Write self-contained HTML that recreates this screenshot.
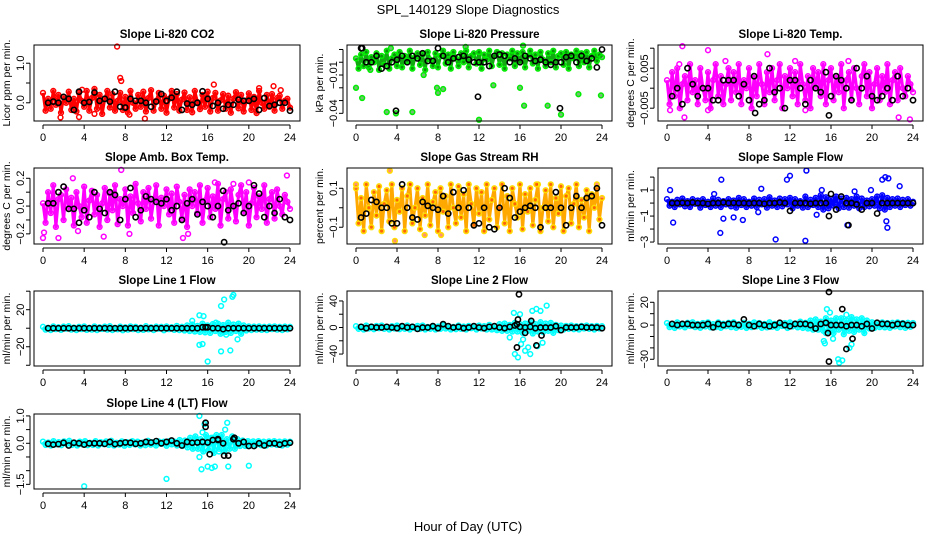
<!DOCTYPE html>
<html><head><meta charset="utf-8"><style>
html,body{margin:0;padding:0;background:#fff;}
svg{display:block;font-family:"Liberation Sans",sans-serif;}
</style></head><body>
<svg id="chart" width="936" height="540" viewBox="0 0 936 540" xmlns="http://www.w3.org/2000/svg">
<rect x="0" y="0" width="936" height="540" fill="#fff"/>
<text x="468" y="14" text-anchor="middle" font-size="13">SPL_140129  Slope Diagnostics</text>
<text x="468" y="531" text-anchor="middle" font-size="13">Hour of Day (UTC)</text>
</svg>
<script>
// ---- data (colored clouds: values over the day; black: half-hourly; outliers) ----
const co2Cloud=[0.25,-0.2,0.1,-0.15,0.3,-0.05,0.2,-0.25,0.15,0.0,0.28,-0.18,0.1,-0.22,0.25,0.05,-0.1,0.3,-0.2,0.12,0.35,-0.15,0.2,-0.28,0.1,0.3,-0.12,0.22,-0.2,0.05,0.25,-0.18,0.15,-0.25,0.3,0.0,-0.15,0.2,-0.1,0.28,-0.22,0.12,0.32,-0.2,0.05,0.25,-0.15,0.18,-0.25,0.1,0.3,-0.12,0.22,-0.2,0.08,0.26,-0.18,0.14,-0.24,0.3,0.02,-0.16,0.2,-0.1,0.28,-0.22,0.12,0.25,-0.2,0.06,0.22,-0.15,0.18,-0.25,0.1,0.27,-0.14,0.2,-0.22,0.05,0.24,-0.18,0.15,-0.26,0.3,0.0,-0.15,0.2,-0.1,0.22,-0.2,0.12,0.18,-0.15,0.05,0.1,-0.12];
const co2OutX=[7.2,7.5,7.6,1.7,3.5,9.9,16.6,22.4,21.0,8.4,5.0,3.8,23.1];
const co2OutY=[1.42,0.63,0.55,-0.37,-0.36,-0.4,0.46,0.42,0.37,-0.3,-0.28,0.33,0.32];
const co2Black=[0.0,0.03,0.0,0.15,0.1,-0.18,0.28,0.0,0.02,0.26,0.05,0.1,0.03,0.28,-0.1,-0.12,0.1,0.05,0.05,0.0,-0.1,0.03,0.22,0.05,0.13,0.28,-0.18,-0.02,-0.05,0.0,0.29,0.1,-0.08,0.0,-0.15,-0.05,-0.05,0.08,0.05,0.05,0.1,-0.18,0.12,-0.08,-0.05,0.0,0.0,-0.2];
const co2BlkX=[],co2BlkY=[];

const presCloud=[0.003,-0.005,0.006,-0.003,0.008,-0.004,0.004,0.0,0.007,-0.006,0.005,-0.002,0.009,-0.005,0.003,0.006,-0.003,0.008,-0.004,0.005,0.001,0.009,-0.005,0.004,0.007,-0.002,0.006,-0.006,0.008,0.002,-0.003,0.007,-0.004,0.005,0.009,-0.001,0.006,-0.005,0.008,0.003,-0.003,0.007,0.0,0.009,-0.004,0.005,0.007,-0.001,0.008,-0.005,0.006,0.002,0.009,-0.003,0.005,0.008,-0.002,0.007,-0.005,0.006,0.003,0.009,-0.003,0.007,0.0,0.008,-0.004,0.005,0.009,-0.001,0.006,-0.005,0.008,0.002,-0.003,0.007,0.0,0.009,-0.004,0.005,0.007,-0.002,0.008,-0.005,0.006,0.003,0.009,-0.003,0.007,0.0,0.008,-0.004,0.005,0.009,0.001,0.006,0.004];
const presOutX=[0.0,0.6,3.0,3.9,5.5,6.6,7.9,8.0,8.5,12.0,13.4,16.0,16.4,18.7,20.0,21.7,23.9,1.4,3.4,16.3,10.7];
const presOutY=[-0.02,-0.028,-0.039,-0.04,-0.039,-0.01,-0.02,-0.024,-0.021,-0.045,-0.018,-0.02,-0.034,-0.034,-0.041,-0.025,-0.026,-0.006,0.011,0.013,0.012];
const presBlack=[0.011,0.0,0.0,0.005,-0.005,-0.003,0.0,0.002,0.005,0.0,0.005,0.003,0.007,0.001,0.001,0.011,0.005,0.0,0.003,0.004,0.005,0.002,0.0,0.0,0.0,-0.003,0.005,0.006,0.005,0.0,0.003,0.0,0.005,0.003,0.001,0.002,0.0,-0.002,0.0,0.0,0.004,0.005,0.0,0.005,0.001,0.003,-0.004,0.01];
const presBlkX=[0.6,3.9,11.9,19.9],presBlkY=[0.011,-0.038,-0.027,-0.036];

const tempCloud=[0.002,-0.004,0.004,-0.002,0.005,-0.005,0.001,0.003,-0.003,0.006,-0.001,0.002,-0.004,0.005,0.0,-0.003,0.004,-0.005,0.002,0.006,-0.002,0.003,-0.004,0.001,0.005,-0.003,0.004,-0.001,0.006,-0.004,0.002,0.0,0.005,-0.005,0.003,-0.002,0.006,0.001,-0.004,0.004,-0.001,0.005,-0.003,0.002,0.006,-0.005,0.003,0.0,0.005,-0.002,0.004,-0.004,0.006,0.001,-0.003,0.003,-0.005,0.005,0.0,0.004,-0.002,0.006,-0.004,0.002,0.005,-0.003,0.003,-0.001,0.006,-0.005,0.002,0.004,-0.003,0.005,0.0,-0.004,0.003,0.006,-0.002,0.004,-0.005,0.001,0.005,-0.003,0.003,-0.001,0.006,-0.004,0.002,0.004,-0.003,0.005,0.0,-0.002,0.003,0.001,-0.001];
const tempOutX=[1.5,4.0,5.7,1.7,0.3,17.7,22.6,23.7,9.8,12.5,13.5,4.0,1.2];
const tempOutY=[0.0105,0.0095,0.0068,-0.0073,-0.0055,0.0068,-0.0073,-0.0078,0.0085,0.0068,-0.0055,-0.0055,0.006];
const tempBlack=[-0.002,0.0,-0.004,0.005,0.001,-0.002,0.0,0.0,-0.003,-0.003,0.002,0.002,0.002,-0.002,0.001,-0.003,0.003,-0.004,-0.003,0.005,-0.001,0.0,-0.005,0.002,0.002,0.0,-0.004,0.002,0.0,-0.001,0.004,-0.002,0.003,0.002,0.0,-0.003,0.005,0.0,0.003,-0.002,-0.003,-0.002,0.0,-0.003,0.003,-0.002,0.0,-0.003];
const tempBlkX=[8.6,15.8],tempBlkY=[-0.0062,-0.0068];

const boxCloud=[0.02,-0.12,0.1,-0.05,0.15,-0.15,0.05,0.08,-0.1,0.12,-0.02,0.06,-0.14,0.1,0.0,-0.08,0.14,-0.12,0.04,0.11,-0.06,0.08,-0.15,0.02,0.13,-0.1,0.09,-0.03,0.15,-0.13,0.05,0.0,0.12,-0.14,0.07,-0.05,0.16,0.02,-0.11,0.1,-0.02,0.13,-0.09,0.04,0.15,-0.14,0.06,0.0,0.12,-0.06,0.09,-0.12,0.14,0.03,-0.09,0.08,-0.15,0.12,0.0,0.1,-0.05,0.15,-0.12,0.04,0.13,-0.08,0.07,-0.02,0.16,-0.14,0.05,0.1,-0.09,0.12,0.0,-0.11,0.08,0.15,-0.05,0.1,-0.14,0.02,0.13,-0.08,0.07,-0.02,0.15,-0.12,0.05,0.1,-0.09,0.12,0.0,-0.06,0.08,0.03,-0.02];
const boxOutX=[0.0,0.1,1.5,7.6,3.4,2.9,16.7,18.5,20.0,23.7,5.9,13.6,14.1,8.4];
const boxOutY=[-0.23,-0.19,-0.23,0.26,-0.18,0.2,0.17,0.16,0.17,0.22,-0.22,-0.23,-0.2,-0.2];
const boxBlack=[0.02,0.02,0.1,0.14,-0.02,-0.02,-0.12,-0.03,-0.08,0.1,-0.02,-0.05,0.1,0.08,-0.1,0.05,0.13,-0.08,-0.03,0.07,0.05,0.03,0.02,0.05,-0.03,0.0,-0.1,0.02,0.05,-0.06,0.03,0.0,-0.08,0.0,0.11,-0.03,0.0,0.02,-0.05,0.0,0.15,0.09,-0.08,0.0,-0.05,0.05,-0.08,-0.1];
const boxBlkX=[17.6],boxBlkY=[-0.26];

const rhCloud=[0.1,-0.08,0.05,-0.12,0.12,0.0,-0.1,0.08,-0.04,0.11,-0.12,0.02,0.09,-0.07,0.12,-0.1,0.04,-0.02,0.1,-0.12,0.06,0.12,-0.08,0.0,0.1,-0.11,0.05,-0.04,0.12,-0.09,0.03,0.08,-0.12,0.1,-0.02,0.06,-0.1,0.12,0.0,-0.08,0.11,-0.05,0.07,-0.12,0.12,0.02,-0.09,0.1,-0.03,0.08,-0.12,0.12,-0.06,0.04,0.1,-0.1,0.0,0.12,-0.08,0.06,-0.12,0.1,0.02,-0.05,0.12,-0.11,0.07,-0.02,0.1,-0.09,0.04,0.12,-0.12,0.0,0.09,-0.07,0.12,-0.1,0.05,-0.03,0.11,-0.12,0.06,0.1,-0.08,0.02,0.12,-0.1,0.04,-0.05,0.09,-0.12,0.07,0.0,0.1,-0.06,0.05];
const rhOutX=[3.3,3.8,17.6,23.5,6.7,8.3,0.0,5.3];
const rhOutY=[0.19,-0.17,0.12,0.12,-0.14,-0.14,0.12,0.12];
const rhBlack=[-0.05,-0.03,0.04,0.03,0.0,0.0,-0.08,-0.08,0.12,0.0,-0.05,-0.06,0.03,0.01,0.0,-0.01,0.06,-0.03,0.08,0.0,0.09,0.0,-0.09,-0.08,0.0,-0.1,-0.11,0.0,0.1,0.05,-0.05,-0.02,0.0,0.01,0.0,-0.1,0.0,0.0,0.08,0.0,-0.09,0.0,0.06,0.0,0.05,0.06,0.1,-0.09];
const rhBlkX=[],rhBlkY=[];

const flowCloud=[0.3,-0.2,0.1,-0.3,0.25,-0.1,0.35,-0.25,0.15,-0.3,0.3,-0.05,0.2,-0.35,0.3,-0.15,0.1,-0.3,0.35,-0.2,0.25,-0.3,0.15,-0.1,0.3,-0.25,0.2,-0.35,0.4,-0.15,0.3,-0.3,0.1,-0.2,0.35,-0.3,0.25,-0.1,0.3,-0.35,0.45,-0.2,0.2,-0.3,0.35,-0.25,0.3,-0.1,0.4,-0.4,0.3,-0.2,0.15,-0.35,0.5,-0.3,0.25,-0.15,0.4,-0.3,0.6,-0.5,0.45,-0.4,0.3,-0.2,0.5,-0.4,0.35,-0.3,0.4,-0.35,0.3,-0.2,0.5,-0.4,0.35,-0.3,0.2,-0.25,0.3,-0.2,0.5,-0.4,0.6,-0.5,0.4,-0.3,0.3,-0.2,0.35,-0.3,0.25,-0.15,0.3,-0.2,0.1];
const flowOutX=[0.3,0.6,5.3,5.2,10.6,11.7,12.0,13.5,13.6,7.4,9.2,8.9,21.0,21.3,21.6,21.4,21.5,19.9,22.7,17.6,4.6,5.5,6.5,14.6,15.1,18.3];
const flowOutY=[1.0,-1.5,1.8,-2.3,-2.8,1.8,2.1,-2.9,2.5,-1.3,1.1,-0.7,1.8,2.0,1.9,-1.4,-1.9,1.0,1.3,-1.7,0.7,-1.2,-1.1,-0.9,1.0,0.9];
const flowBlack=[0.0,0.0,0.02,0.0,0.05,0.0,0.0,-0.05,0.0,0.0,0.05,0.0,0.02,0.0,0.0,-0.02,0.0,0.0,-0.05,0.0,0.0,0.05,0.0,-0.6,0.0,0.0,0.0,-0.05,0.0,0.0,0.0,0.7,-0.5,0.5,0.0,0.0,-0.1,-0.5,0.0,0.0,-0.8,0.0,0.0,0.0,0.0,0.0,0.0,0.0];
const flowBlkX=[17.7,15.8],flowBlkY=[-1.7,-1.0];

const l1Cloud=[1.5,-1.5,0.5,-2,2,-1,1,-1.8,1.8,-0.5,2.2,-1.5,0.8,-2,1.5,-1,2,-1.8,0.5,-1.5,2,-2,1,-0.8,1.8,-1.5,2.2,-2,0.5,-1.2,1.8,-2.2,1,-1.5,2,-1,1.5,-2,0.8,-1.8,2.2,-1.2,1,-2,1.8,-0.5,1.5,-2.2,2,-1,1.2,-1.8,2.5,-2,1.5,-2.5,3,-3,4,-3.5,2.5,-4,5,-4.5,3,-5,4.5,-3,5,-6,3.5,-4,6,-5,4,-3,5,-6,3,-2.5,2,-2,1.8,-1.5,2,-1.8,1.5,-2,1.8,-1,2,-1.5,1.5,-2,1.8,-1.2,1.5];
const l1OutX=[15.2,15.6,17.3,17.6,18.4,18.5,14.5,15.2,15.5,17.3,18.2,16.0,17.8,18.9,16.8];
const l1OutY=[14,13,24,31,34,36,8,-18,-17,-25,-24,-36,-7,-12,6];
const l1Black=[0,0,0,0,0,0,0,0,0,0,0,0,0,0,0,0,0,0,0,0,0,0,0,0,0,0,0,0,0,0,1,1,0,0,-1,0,0,0,0,0,0,0,0,0,0,0,0,0];
const l1BlkX=[15.8],l1BlkY=[1];

const l2Cloud=[2,-2,1,-3,3,-1.5,1.5,-2.5,2.5,-1,3,-2,1,-3,2,-1.5,3,-2.5,1,-2,3,-3,1.5,-1,2.5,-2,3,-3,1,-2,2.5,-3,1.5,-2,3,-1.5,2,-3,1,-2.5,3,-2,1.5,-3,2.5,-1,2,-3,3,-1.5,2,-3,4,-3,2,-4,5,-5,6,-5,4,-6,7,-6,5,-8,6,-5,8,-9,5,-6,8,-7,6,-5,7,-8,4,-4,3,-3,2.5,-2,3,-2.5,2,-3,2.5,-1.5,3,-2,2,-3,2.5,-1.5,2];
const l2OutX=[15.4,16.0,17.2,17.6,18.0,18.6,16.1,15.5,15.0,16.5,17.7,18.2,16.8,17.0,15.8,16.3];
const l2OutY=[22,20,25,28,25,33,-25,-40,-15,-35,-28,-23,-30,-40,-45,-18];
const l2Black=[1,-1,1,0,0,1,0,-1,2,0,1,-2,0,0,2,-1,5,2,0,1,-1,0,2,0,-1,1,2,0,-1,1,3,1,0,1,-1,0,0,0,2,-4,0,0,0,1,0,0,0,-1];
const l2BlkX=[15.9,15.8,17.1,15.7,17.6,16.5,18.1,15.7],l2BlkY=[50,12,10,-30,-27,-8,-12,5];

const l3Cloud=[1.8,-1.8,0.8,-2.5,2.4,-1.2,1.2,-2,2,-0.8,2.5,-1.8,1,-2.4,1.8,-1.2,2.4,-2,0.8,-1.8,2.4,-2.4,1.2,-1,2,-1.8,2.5,-2.4,0.8,-1.5,2,-2.5,1.2,-1.8,2.4,-1.2,1.8,-2.4,1,-2,2.5,-1.5,1.2,-2.4,2,-0.8,1.8,-2.5,2.4,-1.2,1.5,-2,3,-2.5,2,-3,4,-4,5,-4,3,-5,6,-5,4,-7,6,-4,6,-8,4,-5,7,-6,5,-4,6,-7,4,-3,2.5,-2.5,2,-1.8,2.4,-2,1.8,-2.4,2,-1.2,2.4,-1.8,1.8,-2.4,2,-1.5,1.8];
const l3OutX=[15.6,15.9,16.7,16.8,17.1,16.2,15.5,15.3,17.8,18.0,17.5,15.4];
const l3OutY=[14,11,-30,-33,-31,-12,-7,-14,-20,-17,9,-16];
const l3Black=[1,0,1,1,0,0,0,1,-2,1,0,1,1,0,5,0,-1,1,0,-1,0,2,0,-1,1,1,1,0,-3,1,2,0,0,0,-1,0,0,-1,1,-3,2,1,1,0,1,1,0,0];
const l3BlkX=[15.8,15.8,17.1,17.5,18.1,15.7],l3BlkY=[29,-32,14,-21,-12,-7];

const l4Cloud=[0.06,-0.06,0.03,-0.08,0.08,-0.04,0.04,-0.07,0.07,-0.02,0.09,-0.06,0.03,-0.08,0.06,-0.04,0.08,-0.07,0.02,-0.06,0.08,-0.08,0.04,-0.03,0.07,-0.06,0.09,-0.08,0.02,-0.05,0.07,-0.09,0.04,-0.06,0.08,-0.04,0.06,-0.08,0.03,-0.07,0.09,-0.05,0.04,-0.08,0.07,-0.02,0.06,-0.09,0.08,-0.04,0.06,-0.08,0.12,-0.1,0.1,-0.15,0.2,-0.2,0.25,-0.2,0.15,-0.3,0.3,-0.25,0.2,-0.35,0.3,-0.2,0.3,-0.3,0.15,-0.2,0.25,-0.2,0.15,-0.1,0.1,-0.1,0.08,-0.07,0.07,-0.06,0.08,-0.07,0.06,-0.08,0.07,-0.04,0.08,-0.06,0.06,-0.08,0.07,-0.05,0.06];
const l4OutX=[15.2,15.5,15.7,16.0,16.4,16.7,17.9,18.0,17.7,4.0,12.0,20.0,15.2,15.4,16.5,17.1];
const l4OutY=[1.0,0.4,0.7,-0.85,-0.9,-0.85,0.75,-0.85,0.5,-1.57,-1.3,-0.82,-0.5,-0.95,0.2,-0.3];
const l4Black=[-0.02,-0.05,-0.03,0.02,-0.08,0.02,0.0,-0.05,0.0,0.0,0.0,-0.02,0.05,-0.03,0.0,0.03,0.02,-0.02,0.0,0.05,0.03,0.08,0.0,0.05,0.1,0.0,-0.08,0.05,0.02,0.03,0.05,0.03,0.12,0.12,0.0,-0.45,0.15,0.0,0.05,-0.1,-0.1,0.0,-0.08,0.0,0.0,-0.05,0.0,0.02];
const l4BlkX=[15.8,15.8,16.2,17.6,17.0,18.6],l4BlkY=[0.75,0.6,-0.4,-0.45,0.15,0.2];

const xTicks=[0,4,8,12,16,20,24];

// ---- layout ----
const cols=[{l:34,r:300},{l:347,r:612},{l:658,r:923}];
const rows=[{t:45,b:121},{t:168,b:244},{t:291,b:366},{t:414,b:489}];
const panels=[
 {id:'co2',title:'Slope Li-820 CO2',ylab:'Licor ppm per min.',c:0,r:0,ymin:-0.46,ymax:1.46,ticks:[0,0.5,1.0],labels:{'0':'0.0','1':'1.0'},col:'#ff0000',band:'#ff0000',fill:'none',cloud:co2Cloud,ox:co2OutX,oy:co2OutY,blk:co2Black,bx:co2BlkX,by:co2BlkY},
 {id:'pressure',title:'Slope Li-820 Pressure',ylab:'kPa per min.',c:1,r:0,ymin:-0.046,ymax:0.0135,ticks:[0.01,0,-0.01,-0.02,-0.03,-0.04],labels:{'-0.01':'−0.01','-0.04':'−0.04'},col:'#00ee00',band:'#11aa11',fill:'#008800',cloud:presCloud,ox:presOutX,oy:presOutY,blk:presBlack,bx:presBlkX,by:presBlkY},
 {id:'li820-temp',title:'Slope Li-820 Temp.',ylab:'degrees C per min.',c:2,r:0,ymin:-0.0082,ymax:0.0108,ticks:[0.01,0.005,0,-0.005],labels:{'0.005':'0.005','-0.005':'−0.005'},col:'#ff00ff',band:'#ff00ff',fill:'none',cloud:tempCloud,ox:tempOutX,oy:tempOutY,blk:tempBlack,bx:tempBlkX,by:tempBlkY},
 {id:'amb-box-temp',title:'Slope Amb. Box Temp.',ylab:'degrees C per min.',c:0,r:1,ymin:-0.273,ymax:0.274,ticks:[0.2,0.1,0,-0.1,-0.2],labels:{'0.2':'0.2','0':'0.0','-0.2':'−0.2'},col:'#ff00ff',band:'#ff00ff',fill:'none',cloud:boxCloud,ox:boxOutX,oy:boxOutY,blk:boxBlack,bx:boxBlkX,by:boxBlkY},
 {id:'gas-stream-rh',title:'Slope Gas Stream RH',ylab:'percent per min.',c:1,r:1,ymin:-0.186,ymax:0.204,ticks:[0.1,0,-0.1],labels:{'0.1':'0.1','-0.1':'−0.1'},col:'#ffdd00',band:'#ffa800',fill:'#ff3300',cloud:rhCloud,ox:rhOutX,oy:rhOutY,blk:rhBlack,bx:rhBlkX,by:rhBlkY},
 {id:'sample-flow',title:'Slope Sample Flow',ylab:'ml/min per min.',c:2,r:1,ymin:-3.15,ymax:2.7,ticks:[2,1,0,-1,-2,-3],labels:{'1':'1','-1':'−1','-3':'−3'},col:'#0000ff',band:'#0000ff',fill:'none',cloud:flowCloud,ox:flowOutX,oy:flowOutY,blk:flowBlack,bx:flowBlkX,by:flowBlkY},
 {id:'line1-flow',title:'Slope Line 1 Flow',ylab:'ml/min per min.',c:0,r:2,ymin:-40.8,ymax:40.2,ticks:[40,20,0,-20,-40],labels:{'20':'20','-20':'−20'},col:'#00ffff',band:'#00ffff',fill:'none',cloud:l1Cloud,ox:l1OutX,oy:l1OutY,blk:l1Black,bx:l1BlkX,by:l1BlkY},
 {id:'line2-flow',title:'Slope Line 2 Flow',ylab:'ml/min per min.',c:1,r:2,ymin:-58,ymax:55,ticks:[40,20,0,-20,-40],labels:{'40':'40','0':'0','-40':'−40'},col:'#00ffff',band:'#00ffff',fill:'none',cloud:l2Cloud,ox:l2OutX,oy:l2OutY,blk:l2Black,bx:l2BlkX,by:l2BlkY},
 {id:'line3-flow',title:'Slope Line 3 Flow',ylab:'ml/min per min.',c:2,r:2,ymin:-35.9,ymax:29.9,ticks:[20,10,0,-10,-20,-30],labels:{'20':'20','0':'0','-30':'−30'},col:'#00ffff',band:'#00ffff',fill:'none',cloud:l3Cloud,ox:l3OutX,oy:l3OutY,blk:l3Black,bx:l3BlkX,by:l3BlkY},
 {id:'line4-flow',title:'Slope Line 4 (LT) Flow',ylab:'ml/min per min.',c:0,r:3,ymin:-1.67,ymax:1.07,ticks:[1,0.5,0,-0.5,-1,-1.5],labels:{'1':'1.0','0':'0.0','-1.5':'−1.5'},col:'#00ffff',band:'#00ffff',fill:'none',cloud:l4Cloud,ox:l4OutX,oy:l4OutY,blk:l4Black,bx:l4BlkX,by:l4BlkY}
];

const NS='http://www.w3.org/2000/svg';
const svg=document.getElementById('chart');
function mk(tag,attrs,parent){const e=document.createElementNS(NS,tag);for(const k in attrs)e.setAttribute(k,attrs[k]);(parent||svg).appendChild(e);return e;}

panels.forEach(p=>{
  const L=cols[p.c].l,R=cols[p.c].r,T=rows[p.r].t,B=rows[p.r].b;
  const x0=L+9,x1=R-10;
  const xs=t=>x0+t*(x1-x0)/24;
  const ys=v=>B-(v-p.ymin)*(B-T)/(p.ymax-p.ymin);
  const g=mk('g',{});
  
  
  const tt=mk('text',{x:(L+R)/2,y:T-7,'text-anchor':'middle','font-size':'11.5','font-weight':'bold'},g);
  tt.textContent=p.title;
  
  
  const yl=mk('text',{x:0,y:0,'text-anchor':'middle','font-size':'10.5',transform:`translate(${L-24},${(T+B)/2}) rotate(-90)`},g);
  yl.textContent=p.ylab;
  
  
  const n=p.cloud.length;
  // dense cloud band traced through the cloud samples
  const band=mk('polyline',{points:p.cloud.map((v,i)=>xs(i*24/(n-1))+','+ys(v)).join(' '),fill:'none',stroke:p.band,'stroke-width':3,'stroke-linejoin':'round'},g);
  
  
  // points
  const pts=mk('g',{fill:p.fill,'fill-opacity':p.fill==='none'?1:0.55,stroke:p.col,'stroke-width':1.5},g);
  
  
  p.cloud.forEach((v,i)=>{const c=mk('circle',{cx:xs(i*24/(n-1)),cy:ys(v),r:2.4},pts);
    
    });
  p.ox.forEach((t,i)=>{const c=mk('circle',{cx:xs(t),cy:ys(p.oy[i]),r:2.4},pts);
    
    });
  const bk=mk('g',{fill:'none',stroke:'#000','stroke-width':1.6},g);
  
  
  p.blk.forEach((v,i)=>{const c=mk('circle',{cx:xs((i+1)*0.5),cy:ys(v),r:2.6},bk);
    
    });
  p.bx.forEach((t,i)=>{const c=mk('circle',{cx:xs(t),cy:ys(p.by[i]),r:2.6},bk);
    
    });
  // box
  const bx=mk('rect',{x:L,y:T,width:R-L,height:B-T,fill:'none',stroke:'#000','stroke-width':1},g);
  
  
  // x axis
  const xa=mk('g',{},g);
  
  
  mk('line',{x1:xs(0),x2:xs(24),y1:B+4,y2:B+4,stroke:'#000'},xa);
  xTicks.forEach(t=>{mk('line',{x1:xs(t),x2:xs(t),y1:B+4,y2:B+8,stroke:'#000'},xa);
    const lb=mk('text',{x:xs(t),y:B+20,'text-anchor':'middle','font-size':'11'},xa);lb.textContent=t;
    
    });
  // y axis
  const ya=mk('g',{},g);
  
  
  const tv=p.ticks;
  mk('line',{x1:L-4,x2:L-4,y1:ys(Math.max(...tv)),y2:ys(Math.min(...tv)),stroke:'#000'},ya);
  tv.forEach(v=>{mk('line',{x1:L-8,x2:L-4,y1:ys(v),y2:ys(v),stroke:'#000'},ya);
    const key=String(v);
    if(p.labels[key]!==undefined){const lb=mk('text',{x:0,y:0,'text-anchor':'middle','font-size':'11',transform:`translate(${L-10},${ys(v)}) rotate(-90)`},ya);
      lb.textContent=p.labels[key];
      
      }});
});
</script>
</body></html>
